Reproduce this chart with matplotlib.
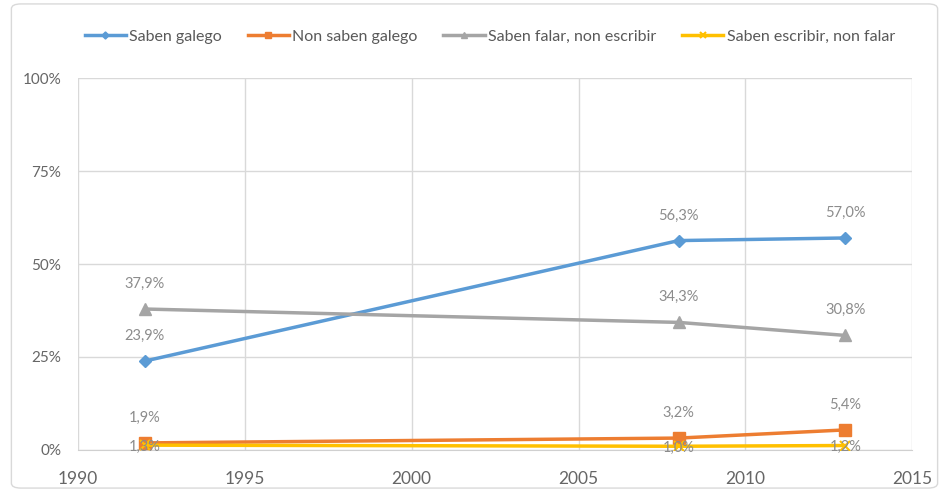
import matplotlib
matplotlib.use("Agg")
import matplotlib.pyplot as plt
from matplotlib.patches import FancyBboxPatch

years = [1992, 2008, 2013]
saben_galego = [23.9, 56.3, 57.0]
non_saben = [1.9, 3.2, 5.4]
falar_non_escribir = [37.9, 34.3, 30.8]
escribir_non_falar = [1.3, 1.0, 1.2]
series_names = ["Saben galego", "Non saben galego", "Saben falar, non escribir", "Saben escribir, non falar"]
x_ticks = [1990, 1995, 2000, 2005, 2010, 2015]
y_ticks = [0, 25, 50, 75, 100]

plt.rcParams['font.family'] = ['Lato', 'DejaVu Sans']

fig = plt.figure(figsize=(9.49, 4.92), dpi=100)
fig.patches.append(FancyBboxPatch((0.012, 0.008), 0.976, 0.984, boxstyle="round,pad=0,rounding_size=0.01",
                                  transform=fig.transFigure, fill=False, edgecolor="#d9d9d9", linewidth=1))
ax = fig.add_axes([0.0822, 0.0854, 0.879, 0.756])

styles = [
    (saben_galego, "#5B9BD5", "D", 6, 'above'),
    (non_saben, "#ED7D31", "s", 8, 'above'),
    (falar_non_escribir, "#A5A5A5", "^", 8, 'above'),
    (escribir_non_falar, "#FFC000", "x", 7, 'center'),
]
handles = []
for (vals, col, mk, ms, pos), name in zip(styles, series_names):
    h, = ax.plot(years, vals, color=col, marker=mk, markersize=ms, linewidth=2.5,
                 markeredgewidth=1.5 if mk == "x" else 1, markeredgecolor=col, label=name, zorder=3)
    handles.append(h)
    for xv, yv in zip(years, vals):
        lab = f"{yv:.1f}%".replace(".", ",")
        if pos == 'above':
            ax.annotate(lab, (xv, yv), xytext=(0, 13), textcoords="offset points", ha="center",
                        va="bottom", fontsize=10.5, color="#8c8c8c", zorder=4)
        else:
            ax.annotate(lab, (xv, yv), xytext=(0, -1), textcoords="offset points", ha="center",
                        va="center", fontsize=10.5, color="#8c8c8c", zorder=4)

ax.set_xlim(1990, 2015)
ax.set_ylim(0, 100)
ax.set_xticks(x_ticks)
ax.set_yticks(y_ticks)
ax.set_yticklabels([f"{v}%" for v in y_ticks])
ax.tick_params(length=0, labelsize=11, labelcolor="#666666")
ax.tick_params(axis="x", pad=15, labelsize=12.5)
ax.tick_params(axis="y", pad=12)
ax.grid(True, color="#d9d9d9", linewidth=1)
ax.set_axisbelow(True)
for s in ["top", "right", "left"]:
    ax.spines[s].set_visible(False)
ax.spines["bottom"].set_color("#d0d0d0")

fig.legend(handles=handles, loc="center left", bbox_to_anchor=(0.074, 0.925), ncol=4, frameon=False,
           fontsize=11.5, labelcolor="#595959", handlelength=2.6, columnspacing=1.6, handletextpad=0.2,
           markerscale=0.6)

fig.savefig("out.png", dpi=100)
